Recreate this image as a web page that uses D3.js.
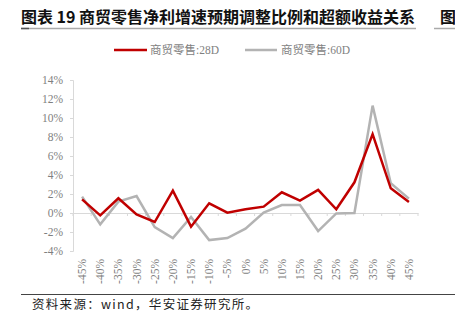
<!DOCTYPE html>
<html><head><meta charset="utf-8">
<script src="https://cdn.jsdelivr.net/npm/d3@7"></script>
<style>body{margin:0;background:#fff}svg{display:block}</style>
</head><body>
<script>
const categories = ["-45%","-40%","-35%","-30%","-25%","-20%","-15%","-10%","-5%","0%","5%","10%","15%","20%","25%","30%","35%","40%","45%"];
const series28D = [1.44,-0.25,1.55,-0.14,-0.95,2.35,-1.44,1.02,0.04,0.39,0.67,2.18,1.30,2.43,0.39,3.23,8.30,2.60,1.16];
const series60D = [1.72,-1.2,1.2,1.79,-1.48,-2.64,-0.42,-2.85,-2.64,-1.65,0.04,0.84,0.84,-1.9,-0.04,0.0,11.3,3.13,1.51];
const yTicks = [-4,-2,0,2,4,6,8,10,12,14];
const seriesNames = ["商贸零售:28D","商贸零售:60D"];
const colors = ["#C00000","#B3B3B3"];

const W=455,H=324;
const svg=d3.select("body").append("svg").attr("width",W).attr("height",H);
const serif="'Liberation Serif','Times New Roman','Noto Sans CJK SC',serif";
const cjk="'Noto Sans CJK SC','Liberation Serif',serif";

// title
svg.append("text").attr("x",21).attr("y",23).attr("font-family",cjk).attr("font-weight","bold")
  .attr("font-size",16).attr("fill","#111").attr("textLength",394).attr("lengthAdjust","spacing")
  .text("图表 19 商贸零售净利增速预期调整比例和超额收益关系");
svg.append("text").attr("x",440).attr("y",23).attr("font-family",cjk).attr("font-weight","bold")
  .attr("font-size",16).attr("fill","#111").text("图");
svg.append("line").attr("x1",21).attr("x2",416).attr("y1",28.5).attr("y2",28.5).attr("stroke","#aaa").attr("stroke-width",1.5);
svg.append("line").attr("x1",21).attr("x2",29).attr("y1",28.5).attr("y2",28.5).attr("stroke","#555").attr("stroke-width",1.5);
svg.append("line").attr("x1",434).attr("x2",455).attr("y1",28.5).attr("y2",28.5).attr("stroke","#aaa").attr("stroke-width",1.5);

const x=d3.scalePoint().domain(categories).range([73,418]).padding(0.5);
const y=d3.scaleLinear().domain([-4,14]).range([251,80]);

// y axis
const ya=svg.append("g").attr("transform","translate(73,0)")
  .call(d3.axisLeft(y).tickValues(yTicks).tickSize(3).tickPadding(7).tickFormat(d=>d+"%"));
ya.select(".domain").attr("stroke","#d9d9d9");
ya.selectAll(".tick line").attr("stroke","#d9d9d9");
ya.selectAll("text").attr("font-family",serif).attr("font-size",11.5).attr("fill","#7f7f7f");

// x axis at zero
const xa=svg.append("g").attr("transform",`translate(0,${y(0)})`)
  .call(d3.axisBottom(x).tickSize(0).tickFormat(""));
xa.select(".domain").attr("stroke","#d9d9d9");
const step=x.step();
const bounds=d3.range(categories.length+1).map(i=>73+i*step);
svg.append("g").selectAll("line").data(bounds).join("line")
  .attr("x1",d=>d).attr("x2",d=>d).attr("y1",y(0)).attr("y2",y(0)+3).attr("stroke","#d9d9d9");

// x labels rotated
svg.append("g").selectAll("text").data(categories).join("text")
  .attr("transform",d=>`translate(${x(d)+4},259) rotate(-90)`)
  .attr("text-anchor","end").attr("font-family",serif).attr("font-size",11.5).attr("fill","#7f7f7f").text(d=>d);

// lines
const line=d3.line().x((d,i)=>x(categories[i])).y(d=>y(d));
[[series60D,colors[1]],[series28D,colors[0]]].forEach(([s,c])=>{
  svg.append("path").datum(s).attr("d",line).attr("fill","none").attr("stroke",c).attr("stroke-width",2.5).attr("stroke-linejoin","miter");
});

// legend
const lg=[{x1:114,x2:147,tx:150,c:colors[0],t:seriesNames[0]},{x1:245,x2:277,tx:281,c:colors[1],t:seriesNames[1]}];
lg.forEach(l=>{
  svg.append("line").attr("x1",l.x1).attr("x2",l.x2).attr("y1",50).attr("y2",50).attr("stroke",l.c).attr("stroke-width",2.5);
  svg.append("text").attr("x",l.tx).attr("y",54).attr("font-family",serif).attr("font-size",11.5).attr("fill","#7f7f7f").text(l.t);
});

// bottom rule and source
svg.append("line").attr("x1",21).attr("x2",455).attr("y1",294.5).attr("y2",294.5).attr("stroke","#444").attr("stroke-width",1.2);
svg.append("text").attr("x",32).attr("y",309).attr("font-family",cjk).attr("font-size",12.5).attr("fill","#222")
  .attr("textLength",226).attr("lengthAdjust","spacing").text("资料来源：wind，华安证券研究所。");
</script>
</body></html>
